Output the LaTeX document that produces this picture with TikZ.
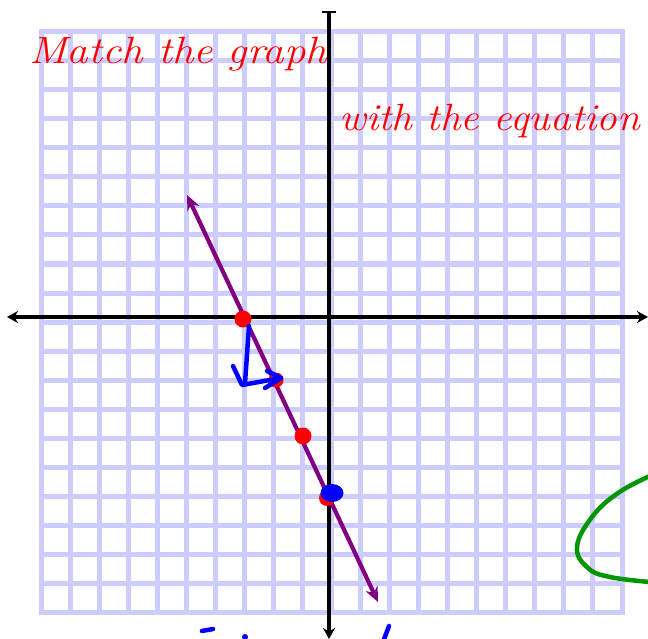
\documentclass[tikz,border=0pt]{standalone}
\usetikzlibrary{arrows.meta}
\definecolor{gridlav}{RGB}{204,204,255}
\definecolor{lineviolet}{RGB}{128,0,128}
\definecolor{inkblue}{RGB}{0,0,255}
\definecolor{inkgreen}{RGB}{0,150,0}
\definecolor{titlered}{RGB}{255,0,0}
\tikzset{
  gridline/.style={draw=gridlav, line width=5pt, line cap=rect},
  axisline/.style={draw=black, line width=4.5pt},
  graphline/.style={draw=lineviolet, line width=4.2pt},
  ink/.style={draw=inkblue, line width=4.5pt, line cap=round, line join=round},
  reddot/.style={fill=titlered},
  title/.style={text=titlered, font=\fontsize{38}{44}\selectfont\itshape, inner sep=0pt, anchor=base west},
}
\begin{document}
\begin{tikzpicture}[x=1pt,y=-1pt]
\useasboundingbox (0,0) rectangle (648,639);
% grid
\foreach \i in {0,...,20} {
  \draw[gridline] ({41+29.05*\i},32) -- ({41+29.05*\i},612);
  \draw[gridline] (41,{32+29*\i}) -- (622,{32+29*\i});
}
% titles
\node[title] (t1) at (29,64) {\scalebox{1.13}[1]{Match the graph}};
\node[title] (t2) at (339,131) {\scalebox{1.085}[1]{with the equation}};
% axes
\coordinate (yt) at (329,12);
\coordinate (yb) at (329,639);
\coordinate (xl) at (7,317);
\coordinate (xr) at (648,317);
\draw[axisline,-{Stealth[length=11pt,width=12pt]}] (yt) -- (yb);
\draw[draw=black,line width=2.5pt] (322,12) -- (336,12);
\draw[axisline,{Stealth[length=11pt,width=12pt]}-{Stealth[length=11pt,width=12pt]}] (xl) -- (xr);
% graph line
\coordinate (la) at (187,195);
\coordinate (lb) at (378,602);
\draw[graphline,{Stealth[length=15pt,width=13pt]}-{Stealth[length=15pt,width=13pt]}] (la) -- (lb);
% red dots
\fill[reddot] (243,319) circle (8.5);
\fill[reddot] (276,380) circle (7.5);
\fill[reddot] (303,436) circle (8.5);
\fill[reddot] (327,498) circle (8);
% blue dot
\fill[inkblue] (332,493) ellipse (11.5 and 9);
% blue annotation
\draw[ink] (249,326) -- (245,383);
\draw[ink] (233,366) -- (242,385) -- (281,378);
\draw[ink] (267,371) -- (281,378) -- (265,388);
% bottom marks
\draw[ink] (202,631) -- (213,629);
\fill[inkblue] (245,637) circle (3);
\draw[ink] (389,626) -- (383,642);
% green curve
\draw[draw=inkgreen, line width=4.5pt, line cap=round] plot[smooth, tension=0.7] coordinates {(650,476) (618,493) (592,517) (577,547) (588,568) (610,577) (650,582)};
\end{tikzpicture}
\end{document}
